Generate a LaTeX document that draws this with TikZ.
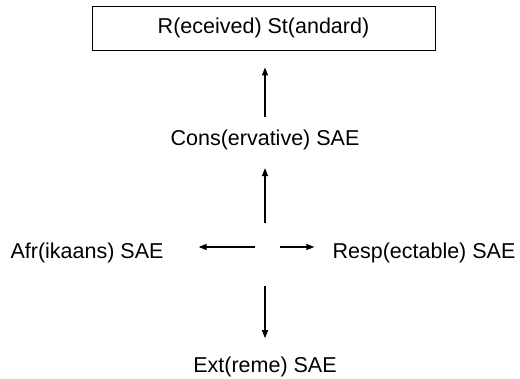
\documentclass[tikz,border=0pt]{standalone}
\usepackage{fontspec}
\setmainfont{Liberation Sans}
\usetikzlibrary{arrows.meta,calc}
\begin{document}
\begin{tikzpicture}[x=1pt,y=-1pt,
  lbl/.style={inner sep=0pt,font=\fontsize{21.5}{24}\selectfont},
  arr/.style={line width=1.2pt,-{Triangle[length=8pt,width=6pt]}}]
\useasboundingbox (0,0) rectangle (520,379);
\node[lbl,draw,line width=0.9pt,minimum width=343pt,minimum height=44pt] (rs) at (263.5,28) {R(eceived) St(andard)};
\node[lbl,anchor=base] (cons) at (265,146) {Cons(ervative) SAE};
\node[lbl,anchor=base] (afr) at (87,259) {Afr(ikaans) SAE};
\node[lbl,anchor=base] (resp) at (424,259) {Resp(ectable) SAE};
\node[lbl,anchor=base] (ext) at (265,373) {Ext(reme) SAE};
\coordinate (hub) at (265,247);
\draw[arr,shorten <=13pt,shorten >=17pt] (cons.north) -- (cons.north |- rs.south);
\draw[arr,shorten <=24pt,shorten >=17.5pt] (hub) -- (hub |- cons.south);
\draw[arr,shorten <=10pt,shorten >=35pt] (hub) -- (afr.east |- hub);
\draw[arr,shorten <=15pt,shorten >=18pt] (hub) -- (resp.west |- hub);
\draw[arr,shorten <=39pt,shorten >=19pt] (hub) -- (hub |- ext.north);
\end{tikzpicture}
\end{document}
